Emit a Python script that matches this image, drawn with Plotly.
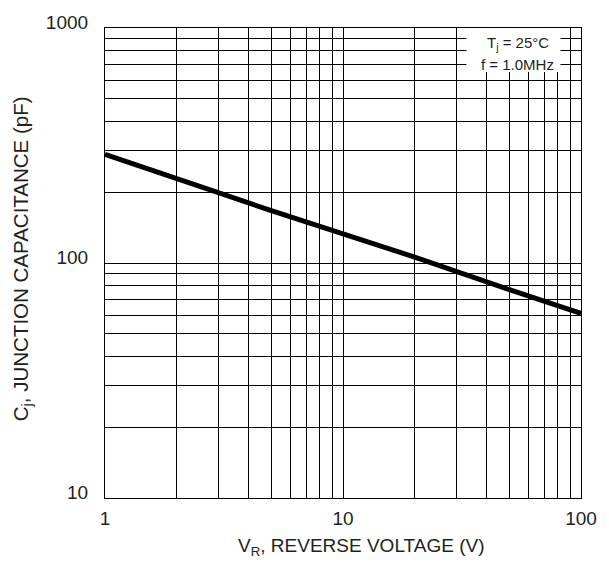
import plotly.graph_objects as go

# Data
reverse_voltage_v = [1, 2, 5, 10, 20, 50, 100]
capacitance_pf = [290, 228, 167, 133, 106, 77, 61]

x_tick_vals = [1, 10, 100]
x_tick_text = ["1", "10", "100"]
y_tick_vals = [10, 100, 1000]
y_tick_text = ["10", "100", "1000"]
x_minor_vals = [2, 3, 4, 5, 6, 7, 8, 9, 20, 30, 40, 50, 60, 70, 80, 90]
y_minor_vals = [20, 30, 40, 50, 60, 70, 80, 90, 200, 300, 400, 500, 600, 700, 800, 900]

FONT = "Liberation Sans, Arial, sans-serif"
TXT = "#231f20"

fig = go.Figure()
fig.add_trace(go.Scatter(
    x=reverse_voltage_v, y=capacitance_pf, mode="lines",
    line=dict(color="#000000", width=5), showlegend=False, hoverinfo="skip"))

# white box behind the condition note
fig.add_shape(type="rect", xref="x", yref="y", x0=33, x1=82, y0=650, y1=1000,
              fillcolor="white", line=dict(width=0), layer="between")

axis_common = dict(
    type="log", showline=True, linecolor="#000000", linewidth=1.2, mirror=True,
    showgrid=True, gridcolor="#000000", gridwidth=1, zeroline=False,
    ticks="", tickfont=dict(family=FONT, size=19, color=TXT),
)
fig.update_xaxes(**axis_common, range=[0, 2], tickvals=x_tick_vals, ticktext=x_tick_text,
                 ticklabelstandoff=3,
                 minor=dict(tickvals=x_minor_vals, showgrid=True, gridcolor="#000000",
                            gridwidth=1, ticks=""))
fig.update_yaxes(**axis_common, range=[1, 3], tickvals=y_tick_vals, ticktext=y_tick_text,
                 ticklabelstandoff=12, ticklabelshift=-6,
                 minor=dict(tickvals=y_minor_vals, showgrid=True, gridcolor="#000000",
                            gridwidth=1, ticks=""))

fig.add_annotation(text="V<sub>R</sub>, REVERSE VOLTAGE (V)", xref="paper", yref="paper",
                   x=0.538, y=-0.105, showarrow=False, xanchor="center", yanchor="middle",
                   font=dict(family=FONT, size=19, color=TXT))
fig.add_annotation(text="C<sub>j</sub>, JUNCTION CAPACITANCE (pF)", xref="paper", yref="paper",
                   x=-0.1746, y=0.51, textangle=-90, showarrow=False,
                   xanchor="center", yanchor="middle",
                   font=dict(family=FONT, size=20.5, color=TXT))
fig.add_annotation(text="T<sub>j</sub> = 25°C", xref="paper", yref="paper",
                   x=0.867, y=0.966, showarrow=False, xanchor="center", yanchor="middle",
                   font=dict(family=FONT, size=15, color=TXT))
fig.add_annotation(text="f = 1.0MHz", xref="paper", yref="paper",
                   x=0.867, y=0.922, showarrow=False, xanchor="center", yanchor="middle",
                   font=dict(family=FONT, size=15, color=TXT))

fig.update_layout(
    width=609, height=567,
    margin=dict(l=105, r=27, t=20, b=69, pad=0),
    plot_bgcolor="white", paper_bgcolor="white",
    font=dict(family=FONT, color=TXT),
)

fig.write_html("out.html", config={"displayModeBar": False},
               post_script="document.body.style.margin='0';document.body.style.padding='0';")
